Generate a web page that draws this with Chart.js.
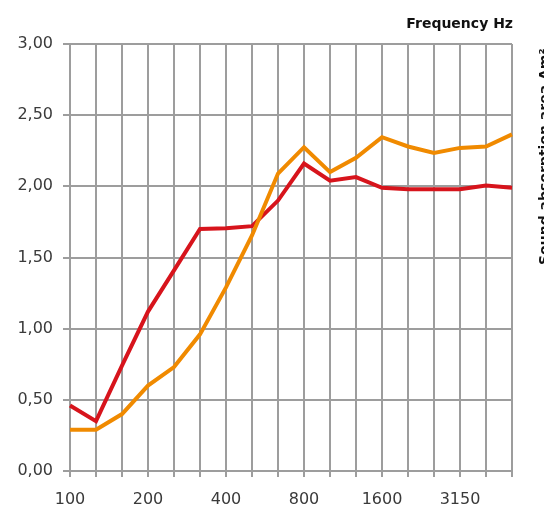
<!DOCTYPE html>
<html>
<head>
<meta charset="utf-8">
<script src="https://cdn.jsdelivr.net/npm/chart.js@4/dist/chart.umd.min.js"></script>
<style>
	html, body { margin: 0; padding: 0; background: #fff; }
	#wrap { position: relative; width: 544px; height: 509px; }
</style>
</head>
<body>
<div id="wrap"><canvas id="chart"></canvas></div>
<script>
// 周波数帯域（1/3オクターブ）
const frequencies = ["100", "125", "160", "200", "250", "315", "400", "500", "630", "800", "1000", "1250", "1600", "2000", "2500", "3150", "4000", "5000"];
// 等価吸音面積 Am²（赤）
const redSeries = [0.46, 0.35, 0.74, 1.12, 1.41, 1.70, 1.705, 1.72, 1.90, 2.16, 2.04, 2.065, 1.99, 1.98, 1.98, 1.98, 2.005, 1.99];
// 等価吸音面積 Am²（オレンジ）
const orangeSeries = [0.29, 0.29, 0.40, 0.60, 0.73, 0.96, 1.29, 1.655, 2.09, 2.275, 2.10, 2.20, 2.345, 2.28, 2.235, 2.27, 2.28, 2.365];
const yTicks = [0, 0.5, 1, 1.5, 2, 2.5, 3];
const xAxisTitle = "Frequency Hz";
const yAxisTitle = "Sound absorption area Am²";

const gridColor = "#9d9d9d";
const textColor = "#3a3a3a";

// 軸タイトルはキャンバスに直接描く（右側は画面外にはみ出す）
const axisTitles = {
	id: "axisTitles",
	afterDraw(chart) {
		const ctx = chart.ctx;
		ctx.save();
		ctx.fillStyle = "#111111";
		ctx.font = "bold 14px 'DejaVu Sans'";
		ctx.textAlign = "right";
		ctx.textBaseline = "alphabetic";
		ctx.fillText(xAxisTitle, 513, 28);

		ctx.translate(549, 265);
		ctx.rotate(-Math.PI / 2);
		ctx.textAlign = "left";
		ctx.fillText(yAxisTitle, 0, 0);
		ctx.restore();
	},
};

new Chart(document.getElementById("chart").getContext("2d"), {
	type: "line",
	data: {
		labels: frequencies,
		datasets: [
			{
				label: "orange",
				data: orangeSeries,
				borderColor: "#f08a00",
				borderWidth: 4,
				pointRadius: 0,
				tension: 0,
				fill: false,
			},
			{
				label: "red",
				data: redSeries,
				borderColor: "#d7141c",
				borderWidth: 4,
				pointRadius: 0,
				tension: 0,
				fill: false,
			},
		],
	},
	options: {
		responsive: true,
		maintainAspectRatio: false,
		animation: false,
		layout: { padding: { top: 44, right: 32, bottom: 0, left: 0 } },
		plugins: {
			legend: { display: false },
			tooltip: { enabled: false },
		},
		scales: {
			x: {
				offset: false,
				afterFit: (scale) => { scale.height = 38; },
				grid: { color: gridColor, lineWidth: 2, tickLength: 6 },
				border: { color: gridColor, width: 2 },
				ticks: {
					autoSkip: false,
					maxRotation: 0,
					padding: 13,
					color: textColor,
					font: { family: "'DejaVu Sans'", size: 16 },
					callback: (v, i) => (i % 3 === 0 ? frequencies[i] : ""),
				},
			},
			y: {
				min: 0,
				max: 3,
				afterFit: (scale) => { scale.width = 70; },
				afterBuildTicks: (scale) => { scale.ticks = yTicks.map((v) => ({ value: v })); },
				grid: { color: gridColor, lineWidth: 2, tickLength: 7 },
				border: { color: gridColor, width: 2 },
				ticks: {
					padding: 10,
					color: textColor,
					font: { family: "'DejaVu Sans'", size: 16 },
					callback: (v) => v.toFixed(2).replace(".", ","),
				},
			},
		},
	},
	plugins: [axisTitles],
});
</script>
</body>
</html>
